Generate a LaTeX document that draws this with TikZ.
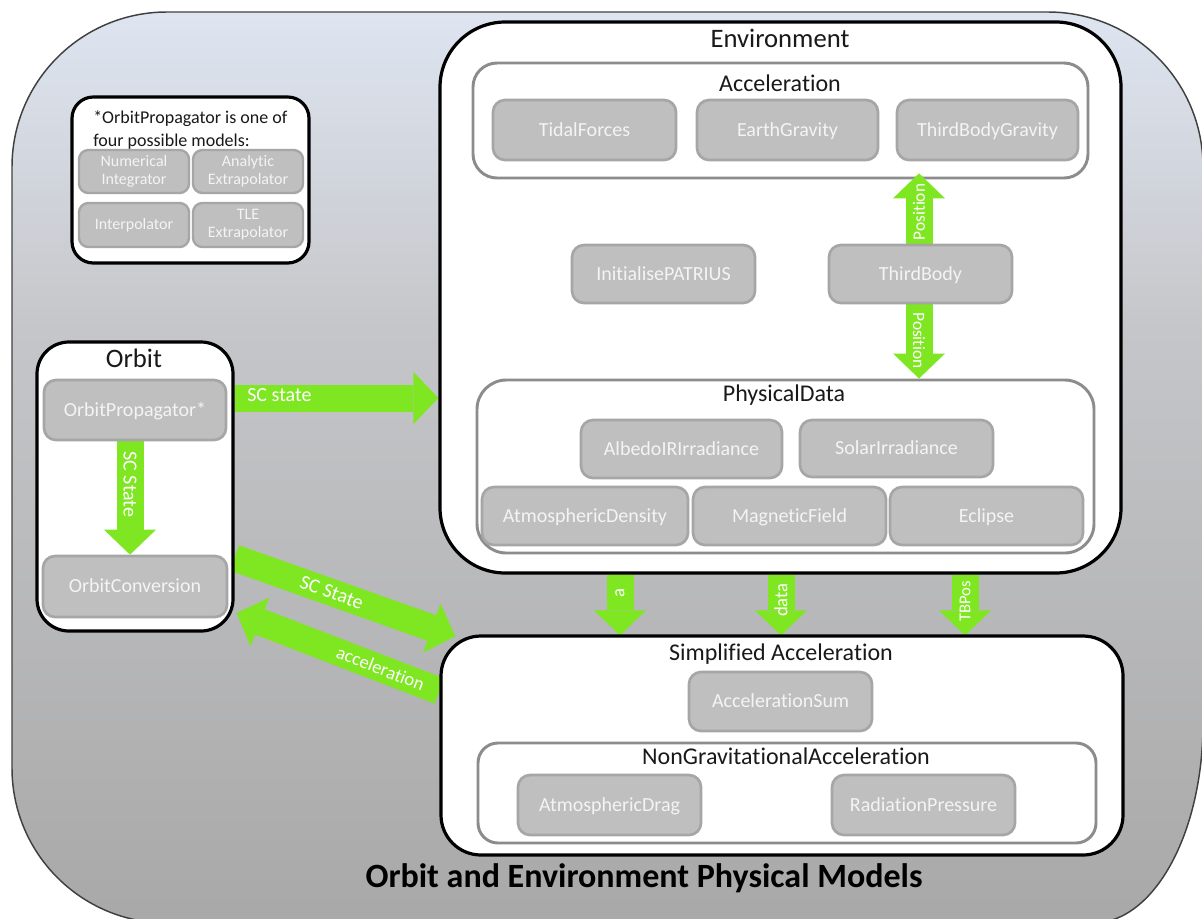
\documentclass[tikz,border=0pt]{standalone}
\usepackage{fontspec}
\setmainfont{Carlito}[Ligatures=NoCommon]
\usetikzlibrary{fit,calc,arrows.meta}

\definecolor{flowgreen}{HTML}{7FE622}
\definecolor{elemfill}{HTML}{BFBFBF}
\definecolor{elemline}{HTML}{A6A6A6}
\definecolor{elemtext}{HTML}{F4F4F4}
\definecolor{subline}{HTML}{8C8C8C}
\definecolor{bgtop}{HTML}{DFE6F2}
\definecolor{bgmid}{HTML}{C5C6C9}
\definecolor{bgbot}{HTML}{A8A8A8}

\pgfdeclarelayer{backdrop}
\pgfdeclarelayer{flows}
\pgfdeclarelayer{front}
\pgfsetlayers{backdrop,flows,main,front}

\begin{document}
\begin{tikzpicture}[x=0.75pt,y=-0.75pt,
  container/.style={draw=black, line width=2.4pt, fill=white, inner sep=0pt},
  subbox/.style={draw=subline, line width=2.2pt, fill=white, inner sep=0pt, rounded corners=18pt},
  elem/.style={draw=elemline, fill=elemfill, line width=2pt, rounded corners=9pt, inner sep=0pt},
  elemtxt/.style={inner sep=0pt, text=elemtext, font=\fontsize{15}{18}\selectfont,
    text height=9.7pt, text depth=0pt},
  minielem/.style={draw=elemline, fill=elemfill, line width=1.8pt, rounded corners=7pt, inner sep=0pt},
  minitxt/.style={inner sep=0pt, text=elemtext, font=\fontsize{12}{13.5}\selectfont, align=center},
  bigtitle/.style={anchor=base, inner sep=0pt, text=black!90, font=\fontsize{20}{24}\selectfont},
  subtitle/.style={anchor=base, inner sep=0pt, text=black!90, font=\fontsize{18}{22}\selectfont},
  notetext/.style={anchor=base west, inner sep=0pt, text=black!90, font=\fontsize{13.5}{16}\selectfont},
  flow/.style={draw=flowgreen, line width=20.25pt,
    -{Triangle[length=18.75pt, width=39pt, line width=0pt]}},
  flowlabel/.style={inner sep=0pt, text=white, font=\fontsize{15}{18}\selectfont},
]
\useasboundingbox (0,0) rectangle (1202,918);
\clip (0,0) rectangle (1202,918);

% ---------- backdrop panel ----------
\begin{pgfonlayer}{backdrop}
  \begin{scope}
    \clip (12,768) -- (12,167) arc[start angle=180, end angle=90, radius=116.25pt]
      -- (1048,12) arc[start angle=90, end angle=0, radius=116.25pt]
      -- (1203,723) arc[start angle=0, end angle=-90, x radius=82.5pt, y radius=150pt]
      -- (167,923) arc[start angle=-90, end angle=-180, radius=116.25pt] -- cycle;
    \shade[top color=bgtop, bottom color=bgmid] (0,0) rectangle (1210,331);
    \shade[top color=bgmid, bottom color=bgbot] (0,330) rectangle (1210,930);
  \end{scope}
  \draw[line width=1.1pt, draw=black!75]
    (12,768) -- (12,167) arc[start angle=180, end angle=90, radius=116.25pt]
    -- (1048,12) arc[start angle=90, end angle=0, radius=116.25pt]
    -- (1203,723) arc[start angle=0, end angle=-90, x radius=82.5pt, y radius=150pt]
    -- (167,923) arc[start angle=-90, end angle=-180, radius=116.25pt] -- cycle;
  \node[anchor=base, inner sep=0pt, font=\bfseries\fontsize{25.5}{30}\selectfont] (caption)
    at (644,887) {Orbit and Environment Physical Models};
\end{pgfonlayer}

% ---------- main containers ----------
\node[container, rounded corners=49pt, fit={(440,22) (1121,573)}] (env) {};
\node[container, rounded corners=24pt, fit={(37,342) (233,631)}] (orbit) {};
\node[container, rounded corners=30pt, fit={(441,636) (1123,855)}] (simp) {};
\node[container, rounded corners=16pt, fit={(72,97) (309,263)}] (note) {};

\node[bigtitle] (envtitle) at (780,47) {Environment};
\node[bigtitle] (orbittitle) at (134,367) {Orbit};
\node[subtitle] (simptitle) at (781,660) {Simplified Acceleration};

% ---------- sub containers ----------
\node[subbox, fit={(473,63) (1088,178)}] (acc) {};
\node[subbox, rounded corners=22pt, fit={(477,380) (1094,553)}] (phys) {};
\node[subbox, rounded corners=15pt, fit={(478,743) (1096,843)}] (nongrav) {};

\node[subtitle] (acctitle) at (780,91.5) {Acceleration};
\node[subtitle] (phystitle) at (784,401.5) {PhysicalData};
\node[subtitle] (ngtitle) at (786,764) {NonGravitationalAcceleration};

% ---------- note on propagator models ----------
\node[notetext] (note1) at (93,123.5) {*OrbitPropagator is one of};
\node[notetext] (note2) at (93,146) {four possible models:};

% ---------- model blocks ----------
\begin{pgfonlayer}{front}
  \node[minielem, fit={(79,150) (189,193)}, label={[minitxt]center:Numerical\\Integrator}] (numint) {};
  \node[minielem, fit={(193,150) (303,193)}, label={[minitxt]center:Analytic\\Extrapolator}] (anaext) {};
  \node[minielem, fit={(79,203) (189,247)}, label={[minitxt]center:Interpolator}] (interp) {};
  \node[minielem, fit={(193,203) (303,247)}, label={[minitxt]center:TLE\\Extrapolator}] (tleext) {};

  \node[elem, fit={(44,380) (226,440)}, label={[elemtxt]center:OrbitPropagator*}] (oprop) {};
  \node[elem, fit={(43,556) (227,617)}, label={[elemtxt]center:OrbitConversion}] (oconv) {};

  \node[elem, fit={(493,100) (676,160)}, label={[elemtxt]center:TidalForces}] (tidal) {};
  \node[elem, fit={(697,100) (878,160)}, label={[elemtxt]center:EarthGravity}] (egrav) {};
  \node[elem, fit={(897,100) (1078,160)}, label={[elemtxt]center:ThirdBodyGravity}] (tbgrav) {};

  \node[elem, fit={(572,245) (755,303)}, label={[elemtxt]center:InitialisePATRIUS}] (initp) {};
  \node[elem, fit={(829,245) (1012,303)}, label={[elemtxt]center:ThirdBody}] (tbody) {};

  \node[elem, fit={(581,420) (782,478)}, label={[elemtxt]center:AlbedoIRIrradiance}] (albedo) {};
  \node[elem, fit={(800,420) (993,477)}, label={[elemtxt]center:SolarIrradiance}] (solar) {};
  \node[elem, fit={(482,487) (688,545)}, label={[elemtxt]center:AtmosphericDensity}] (atmden) {};
  \node[elem, fit={(693,487) (886,545)}, label={[elemtxt]center:MagneticField}] (magf) {};
  \node[elem, fit={(890,487) (1083,545)}, label={[elemtxt]center:Eclipse}] (eclipse) {};

  \node[elem, fit={(689,672) (872,731)}, label={[elemtxt]center:AccelerationSum}] (asum) {};
  \node[elem, fit={(518,775) (701,835)}, label={[elemtxt]center:AtmosphericDrag}] (adrag) {};
  \node[elem, fit={(832,775) (1015,835)}, label={[elemtxt]center:RadiationPressure}] (rpress) {};
\end{pgfonlayer}

% ---------- data flows ----------
\coordinate (ox) at (130,0);
\coordinate (xp) at (919,0);
\coordinate (xa) at (620,0);
\coordinate (xd) at (781,0);
\coordinate (xt) at (965,0);
\coordinate (ysc) at (0,398);
\coordinate (ydA) at (0,558);
\coordinate (ydB) at (0,691);
\coordinate (ydC) at (0,613);

% inside the environment
\draw[flow] (tbody.north -| xp) --
  node[flowlabel, rotate=90, pos=0.45, font=\fontsize{13}{16}\selectfont] {Position}
  ($(tbgrav.south -| xp)+(0,12)$);
\draw[flow] (tbody.south -| xp) --
  node[flowlabel, rotate=-90, pos=0.49, font=\fontsize{13}{16}\selectfont] {Position}
  (phys.north -| xp);

% inside the orbit block
\draw[flow] (oprop.south -| ox) --
  node[flowlabel, rotate=-90, pos=0.38] {SC State} (oconv.north -| ox);

\begin{pgfonlayer}{flows}
  \draw[flow] (orbit.east |- ysc) --
    node[flowlabel, pos=0.22, yshift=2pt] {SC state} (env.west |- ysc);
  \draw[flow] (orbit.east |- ydA) --
    node[flowlabel, sloped, pos=0.44] {SC State} ($(simp.north west)+(16,2)$);
  \draw[flow] (simp.west |- ydB) --
    node[flowlabel, sloped, pos=0.29, font=\fontsize{14}{17}\selectfont] {acceleration}
    ($(orbit.east |- ydC)+(2,0)$);
  \draw[flow] (env.south -| xa) --
    node[flowlabel, rotate=90, pos=0.31, font=\fontsize{14}{17}\selectfont] {a} ($(simp.north -| xa)+(0,1)$);
  \draw[flow] (env.south -| xd) --
    node[flowlabel, rotate=90, pos=0.42, font=\fontsize{14}{17}\selectfont] {data} ($(simp.north -| xd)+(0,1)$);
  \draw[flow] (env.south -| xt) --
    node[flowlabel, rotate=90, pos=0.44, font=\fontsize{12.5}{15}\selectfont] {TBPos} ($(simp.north -| xt)+(0,1)$);
\end{pgfonlayer}
\end{tikzpicture}
\end{document}
